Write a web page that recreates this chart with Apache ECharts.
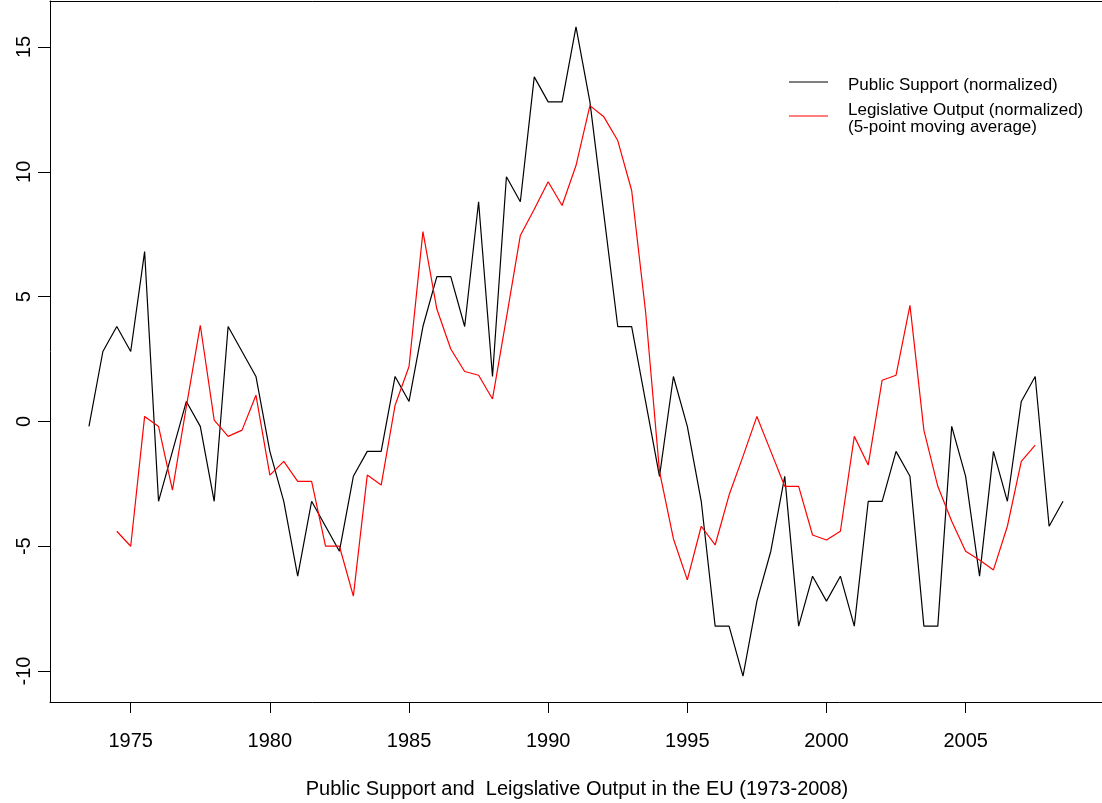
<!DOCTYPE html>
<html>
<head>
<meta charset="utf-8">
<script src="https://cdn.jsdelivr.net/npm/echarts@6/dist/echarts.min.js"></script>
<style>
  html, body { margin: 0; padding: 0; background: #fff; }
  #chart { width: 1102px; height: 803px; }
</style>
</head>
<body>
<div id="chart"></div>
<script>
// half-year steps 1973.5 .. 2008.5
const years = [1973.5, 1974, 1974.5, 1975, 1975.5, 1976, 1976.5, 1977, 1977.5, 1978,
  1978.5, 1979, 1979.5, 1980, 1980.5, 1981, 1981.5, 1982, 1982.5, 1983,
  1983.5, 1984, 1984.5, 1985, 1985.5, 1986, 1986.5, 1987, 1987.5, 1988,
  1988.5, 1989, 1989.5, 1990, 1990.5, 1991, 1991.5, 1992, 1992.5, 1993,
  1993.5, 1994, 1994.5, 1995, 1995.5, 1996, 1996.5, 1997, 1997.5, 1998,
  1998.5, 1999, 1999.5, 2000, 2000.5, 2001, 2001.5, 2002, 2002.5, 2003,
  2003.5, 2004, 2004.5, 2005, 2005.5, 2006, 2006.5, 2007, 2007.5, 2008, 2008.5]

// public support (normalized)
const support = [-0.2, 2.8, 3.8, 2.8, 6.8, -3.2, -1.2, 0.8, -0.2, -3.2,
  3.8, 2.8, 1.8, -1.2, -3.2, -6.2, -3.2, -4.2, -5.2, -2.2,
  -1.2, -1.2, 1.8, 0.8, 3.8, 5.8, 5.8, 3.8, 8.8, 1.8,
  9.8, 8.8, 13.8, 12.8, 12.8, 15.8, 12.8, 8.3, 3.8, 3.8,
  0.8, -2.2, 1.8, -0.2, -3.2, -8.2, -8.2, -10.2, -7.2, -5.2,
  -2.2, -8.2, -6.2, -7.2, -6.2, -8.2, -3.2, -3.2, -1.2, -2.2,
  -8.2, -8.2, -0.2, -2.2, -6.2, -1.2, -3.2, 0.8, 1.8, -4.2, -3.2]

// legislative output (normalized, 5-point moving average)
const output = [null, null, -4.4, -5.0, 0.2, -0.2, -2.75, 0.6, 3.85, 0.05,
  -0.6, -0.35, 1.05, -2.15, -1.6, -2.4, -2.4, -5.0, -5.0, -7.0,
  -2.15, -2.55, 0.65, 2.2, 7.6, 4.5, 2.9, 2.0, 1.85, 0.9,
  4.15, 7.45, 8.5, 9.6, 8.65, 10.25, 12.65, 12.2, 11.25, 9.25,
  4.4, -2.0, -4.7, -6.35, -4.2, -4.95, -2.95, -1.4, 0.2, -1.2,
  -2.6, -2.6, -4.55, -4.75, -4.4, -0.6, -1.75, 1.65, 1.85, 4.65,
  -0.35, -2.6, -4.0, -5.2, -5.55, -5.95, -4.2, -1.6, -0.95, null, null]

const xTicks = [1975, 1980, 1985, 1990, 1995, 2000, 2005]
const yTicks = [-10, -5, 0, 5, 10, 15]

const font = "'Liberation Sans', Arial, sans-serif"

const chart = echarts.init(document.getElementById('chart'))

const pairs = (vals) => years.map((y, i) => [y, vals[i]])

const option = {
  animation: false,
  backgroundColor: '#fff',
  grid: {
    left: 50,
    top: 1,
    width: 1054,
    height: 701,
    show: false
  },
  xAxis: [
    {
      type: 'value',
      position: 'bottom',
      min: 1972.1,
      max: 2009.9,
      axisLine: { show: true, onZero: false, lineStyle: { color: '#000', width: 1 } },
      splitLine: { show: false },
      axisTick: {
        show: true,
        length: 11,
        customValues: xTicks,
        lineStyle: { color: '#000', width: 1 }
      },
      axisLabel: {
        customValues: xTicks,
        formatter: (v) => String(v),
        margin: 29,
        color: '#000',
        fontSize: 20,
        fontFamily: font
      }
    },
    {
      // top edge of the box
      type: 'value',
      position: 'top',
      min: 1972.1,
      max: 2009.9,
      axisLine: { show: true, onZero: false, lineStyle: { color: '#000', width: 1 } },
      axisTick: { show: false },
      axisLabel: { show: false },
      splitLine: { show: false }
    }
  ],
  yAxis: {
    type: 'value',
    min: -11.24,
    max: 16.84,
    axisLine: { show: true, onZero: false, lineStyle: { color: '#000', width: 1 } },
    splitLine: { show: false },
    axisTick: {
      show: true,
      length: 12,
      customValues: yTicks,
      lineStyle: { color: '#000', width: 1 }
    },
    axisLabel: {
      customValues: yTicks,
      rotate: 90,
      margin: 16,
      color: '#000',
      fontSize: 20,
      fontFamily: font
    }
  },
  series: [
    {
      name: 'Public Support (normalized)',
      type: 'line',
      data: pairs(support),
      showSymbol: false,
      lineStyle: { color: '#000', width: 1.2 },
      itemStyle: { color: '#000' }
    },
    {
      name: 'Legislative Output (normalized)',
      type: 'line',
      data: pairs(output),
      connectNulls: false,
      showSymbol: false,
      lineStyle: { color: '#f00', width: 1.2 },
      itemStyle: { color: '#f00' }
    }
  ],
  graphic: [
    // legend
    { type: 'line', shape: { x1: 789, y1: 82, x2: 828, y2: 82 }, style: { stroke: '#000', lineWidth: 1.2 } },
    { type: 'line', shape: { x1: 789, y1: 116, x2: 828, y2: 116 }, style: { stroke: '#f00', lineWidth: 1.2 } },
    { type: 'text', left: 848, top: 77, style: { text: 'Public Support (normalized)', fill: '#000', font: '17px ' + font } },
    { type: 'text', left: 848, top: 102, style: { text: 'Legislative Output (normalized)', fill: '#000', font: '17px ' + font } },
    { type: 'text', left: 848, top: 119, style: { text: '(5-point moving average)', fill: '#000', font: '17px ' + font } },
    // caption under the axis
    {
      type: 'text',
      x: 577,
      y: 789,
      style: {
        text: 'Public Support and  Leigslative Output in the EU (1973-2008)',
        fill: '#000',
        font: '20px ' + font,
        textAlign: 'center',
        textVerticalAlign: 'middle'
      }
    }
  ]
}

chart.setOption(option)
</script>
</body>
</html>
